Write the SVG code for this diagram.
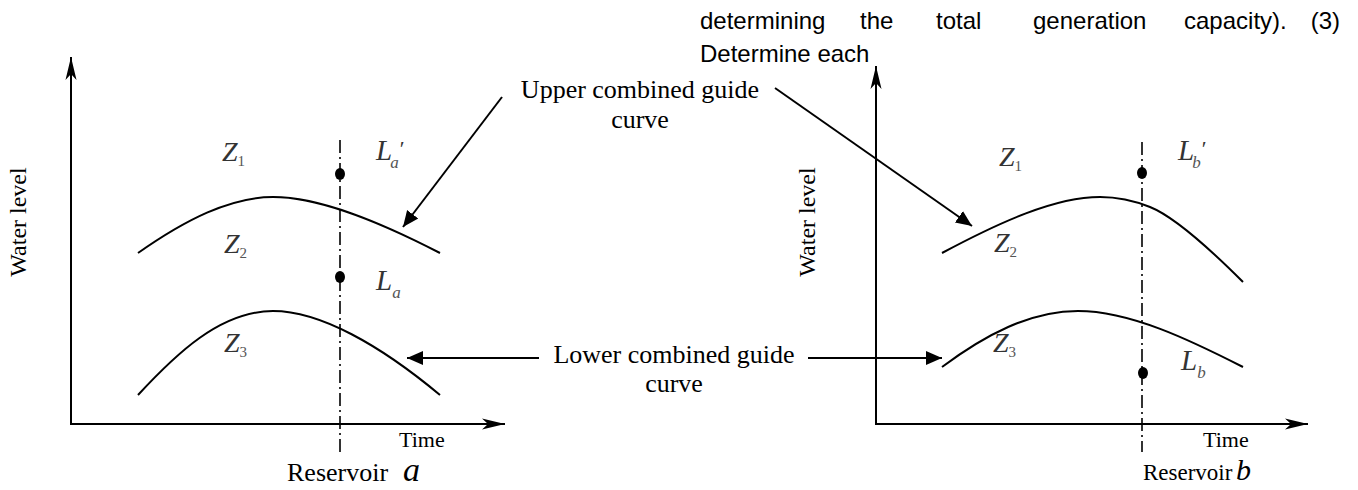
<svg xmlns="http://www.w3.org/2000/svg" width="1358" height="490" viewBox="0 0 1358 490">
<style>
.ax{stroke:#000;stroke-width:2;fill:none}
.cv{stroke:#000;stroke-width:2;fill:none}
.dd{stroke:#000;stroke-width:1.6;fill:none;stroke-dasharray:13 4 2 4}
.ar{stroke:#000;stroke-width:2;fill:none}
.lab{font-family:"Liberation Serif","Times New Roman",serif;font-size:26px;fill:#000}
.sm{font-family:"Liberation Serif","Times New Roman",serif;font-size:22px;fill:#000}
.wl{font-family:"Liberation Serif","Times New Roman",serif;font-size:24px;fill:#000}
.z{font-family:"Liberation Serif","Times New Roman",serif;font-style:italic;font-size:28px;fill:#333}
.l{font-family:"Liberation Serif","Times New Roman",serif;font-style:italic;font-size:29px;fill:#333}
.sub{font-family:"Liberation Serif","Times New Roman",serif;font-style:normal;font-size:15px;fill:#555}
.subi{font-family:"Liberation Serif","Times New Roman",serif;font-style:italic;font-size:17px;fill:#555}
.pr{font-size:22px;font-style:normal}
.top{font-family:"Liberation Sans",Arial,sans-serif;font-size:24px;fill:#000}
</style>
<defs>
<marker id="axh" markerUnits="userSpaceOnUse" markerWidth="26" markerHeight="14" refX="24" refY="7" orient="auto">
<path d="M24,7 L1,1.5 L7,7 L1,12.5 Z" fill="#000"/>
</marker>
<marker id="tri" markerUnits="userSpaceOnUse" markerWidth="18" markerHeight="16" refX="16" refY="8" orient="auto">
<path d="M16,8 L0,1 L0,15 Z" fill="#000"/>
</marker>
</defs>

<g id="top-text" class="top">
<text x="700" y="29">determining</text>
<text x="860" y="29">the</text>
<text x="936" y="29">total</text>
<text x="1033" y="29">generation</text>
<text x="1184" y="29">capacity).</text>
<text x="1340" y="29" text-anchor="end">(3)</text>
<text x="700" y="62">Determine each</text>
</g>

<g id="chart-a">
<line class="ax" x1="71" y1="425" x2="71" y2="57" marker-end="url(#axh)"/>
<line class="ax" x1="70" y1="424" x2="505" y2="424" marker-end="url(#axh)"/>
<line class="dd" x1="340" y1="140" x2="340" y2="452"/>
<path class="cv" d="M138,253 C185,220 230,197 273,197 C320,197 380,222 440,253"/>
<path class="cv" d="M138,395 C175,355 220,311 273,311 C320,311 380,345 440,395"/>
<ellipse cx="340" cy="174" rx="5" ry="6" fill="#000"/>
<ellipse cx="340" cy="277" rx="5" ry="6" fill="#000"/>
<text class="z" x="222" y="161">Z<tspan class="sub" dy="5">1</tspan></text>
<text class="z" x="224" y="253">Z<tspan class="sub" dy="5">2</tspan></text>
<text class="z" x="224" y="352">Z<tspan class="sub" dy="5">3</tspan></text>
<text class="l" x="376" y="160">L<tspan class="subi" dx="-2" dy="8">a</tspan><tspan class="pr" dx="1" dy="-12">′</tspan></text>
<text class="l" x="376" y="290">L<tspan class="subi" dx="0" dy="8">a</tspan></text>
<text class="sm" x="399" y="447">Time</text>
<text class="lab" x="287" y="481">Reservoir</text><text class="lab" x="403" y="481" style="font-style:italic;font-size:34px">a</text>
<text class="wl" transform="translate(26,222) rotate(-90)" text-anchor="middle">Water level</text>
</g>

<g id="chart-b">
<line class="ax" x1="876" y1="425" x2="876" y2="66" marker-end="url(#axh)"/>
<line class="ax" x1="875" y1="424" x2="1308" y2="424" marker-end="url(#axh)"/>
<line class="dd" x1="1142" y1="142" x2="1142" y2="452"/>
<path class="cv" d="M942,253 C1000,222 1055,197 1100,197 C1120,197 1135,201 1150,207 C1175,217 1215,254 1243,282"/>
<path class="cv" d="M942,367 C985,335 1030,311 1078,311 C1130,311 1190,340 1243,367"/>
<ellipse cx="1142" cy="173" rx="5" ry="6" fill="#000"/>
<ellipse cx="1143" cy="373" rx="5" ry="6" fill="#000"/>
<text class="z" x="999" y="166">Z<tspan class="sub" dy="5">1</tspan></text>
<text class="z" x="994" y="252">Z<tspan class="sub" dy="5">2</tspan></text>
<text class="z" x="993" y="352">Z<tspan class="sub" dy="5">3</tspan></text>
<text class="l" x="1178" y="160">L<tspan class="subi" dx="-2" dy="8">b</tspan><tspan class="pr" dx="1" dy="-12">′</tspan></text>
<text class="l" x="1181" y="370">L<tspan class="subi" dx="0" dy="8">b</tspan></text>
<text class="sm" x="1203" y="447">Time</text>
<text class="lab" x="1143" y="480" style="font-size:23px">Reservoir</text><text class="lab" x="1236" y="480" style="font-style:italic;font-size:30px">b</text>
<text class="wl" transform="translate(815,222) rotate(-90)" text-anchor="middle">Water level</text>
</g>

<g id="upper-label">
<text class="lab" x="640" y="98" text-anchor="middle">Upper combined guide</text>
<text class="lab" x="640" y="128" text-anchor="middle">curve</text>
</g>
<g id="lower-label">
<text class="lab" x="674" y="363" text-anchor="middle">Lower combined guide</text>
<text class="lab" x="674" y="392" text-anchor="middle">curve</text>
</g>

<g id="connectors">
<line class="ar" x1="502" y1="97" x2="403" y2="227" marker-end="url(#tri)"/>
<line class="ar" x1="775" y1="88" x2="972" y2="226" marker-end="url(#tri)"/>
<line class="ar" x1="539" y1="358" x2="407" y2="358" marker-end="url(#tri)"/>
<line class="ar" x1="808" y1="358" x2="942" y2="358" marker-end="url(#tri)"/>
</g>
</svg>
